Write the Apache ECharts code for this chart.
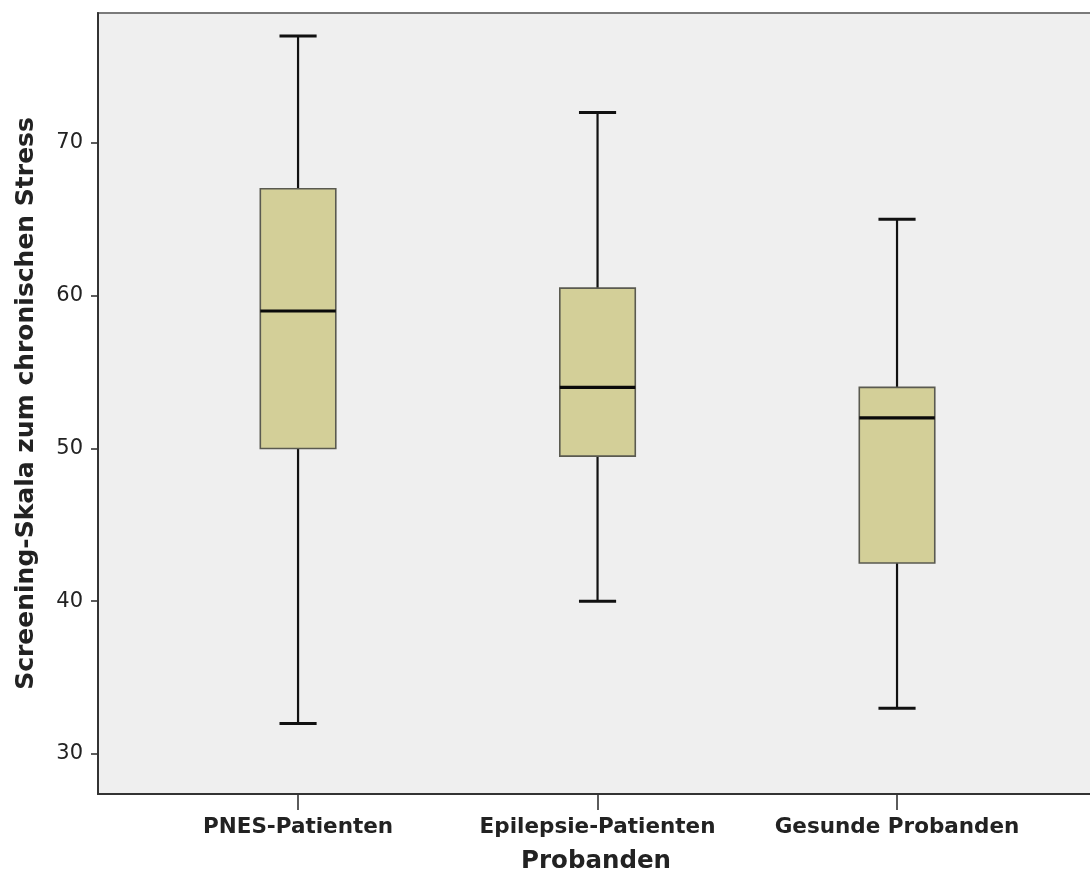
<!DOCTYPE html>
<html>
<head>
<meta charset="utf-8">
<script src="https://cdn.jsdelivr.net/npm/echarts@6/dist/echarts.min.js"></script>
<style>
html, body { margin: 0; padding: 0; background: #ffffff; }
#chart { width: 1090px; height: 879px; }
</style>
</head>
<body>
<div id="chart"></div>
<script>
// Groups and their five-number summaries
const categories = ['PNES-Patienten', 'Epilepsie-Patienten', 'Gesunde Probanden'];
const whiskerLow  = [32, 40, 33];
const quartile1   = [50, 49.5, 42.5];
const median      = [59, 54, 52];
const quartile3   = [67, 60.5, 54];
const whiskerHigh = [77, 72, 65];

// Axis tick positions
const yTicks = [30, 40, 50, 60, 70];
const xTicks = [0, 1, 2];

const boxData = categories.map((c, i) => [i, whiskerLow[i], quartile1[i], median[i], quartile3[i], whiskerHigh[i]]);

function renderBox(params, api) {
  const i = api.value(0);
  const unit = api.size([1, 0])[0];
  const half = unit * 0.126;
  const capHalf = unit * 0.062;
  const pLow = api.coord([i, api.value(1)]);
  const pQ1 = api.coord([i, api.value(2)]);
  const pMed = api.coord([i, api.value(3)]);
  const pQ3 = api.coord([i, api.value(4)]);
  const pHigh = api.coord([i, api.value(5)]);
  const x = pMed[0];
  const whisker = { stroke: '#111', lineWidth: 2.2 };
  const cap = { stroke: '#111', lineWidth: 3 };
  return {
    type: 'group',
    children: [
      { type: 'line', shape: { x1: x, y1: pQ1[1], x2: x, y2: pLow[1] }, style: whisker },
      { type: 'line', shape: { x1: x, y1: pQ3[1], x2: x, y2: pHigh[1] }, style: whisker },
      { type: 'line', shape: { x1: x - capHalf, y1: pLow[1], x2: x + capHalf, y2: pLow[1] }, style: cap },
      { type: 'line', shape: { x1: x - capHalf, y1: pHigh[1], x2: x + capHalf, y2: pHigh[1] }, style: cap },
      { type: 'rect', shape: { x: x - half, y: pQ3[1], width: half * 2, height: pQ1[1] - pQ3[1] },
        style: { fill: '#d3cf98', stroke: '#5a5a50', lineWidth: 1.6 } },
      { type: 'line', shape: { x1: x - half, y1: pMed[1], x2: x + half, y2: pMed[1] },
        style: { stroke: '#0a0a0a', lineWidth: 3.2 } }
    ]
  };
}

const chart = echarts.init(document.getElementById('chart'), null, { renderer: 'canvas' });
chart.setOption({
  animation: false,
  backgroundColor: '#ffffff',
  textStyle: { fontFamily: 'DejaVu Sans' },
  grid: {
    left: 98, top: 13, right: -4, bottom: 85,
    outerBoundsMode: 'none',
    containLabel: false,
    show: true, backgroundColor: '#efefef', borderColor: '#7a7a7a', borderWidth: 2
  },
  xAxis: {
    type: 'value',
    min: -0.668, max: 2.6577,
    name: 'Probanden',
    nameLocation: 'middle',
    nameGap: 55,
    nameTextStyle: { fontSize: 24.5, fontWeight: 'bold', color: '#222', fontFamily: 'DejaVu Sans' },
    axisLine: { show: true, onZero: false, lineStyle: { color: '#333', width: 2 } },
    axisTick: { show: true, customValues: xTicks, length: 16, lineStyle: { color: '#333', width: 1.6 } },
    axisLabel: {
      show: true, customValues: xTicks, margin: 22,
      formatter: v => categories[Math.round(v)],
      fontSize: 21.5, fontWeight: 'bold', color: '#222', fontFamily: 'DejaVu Sans'
    },
    splitLine: { show: false }
  },
  yAxis: {
    type: 'value',
    min: 27.38, max: 78.51,
    name: 'Screening-Skala zum chronischen Stress',
    nameLocation: 'middle',
    nameGap: 59,
    nameTextStyle: { fontSize: 25, fontWeight: 'bold', color: '#222', fontFamily: 'DejaVu Sans' },
    axisLine: { show: true, onZero: false, lineStyle: { color: '#333', width: 2 } },
    axisTick: { show: true, customValues: yTicks, length: 7, lineStyle: { color: '#333', width: 1.6 } },
    axisLabel: { show: true, customValues: yTicks, margin: 15, fontSize: 21, color: '#222', fontFamily: 'DejaVu Sans' },
    splitLine: { show: false }
  },
  series: [{
    type: 'custom',
    renderItem: renderBox,
    data: boxData,
    encode: { x: 0, y: [1, 2, 3, 4, 5] },
    clip: false
  }]
});
</script>
</body>
</html>
